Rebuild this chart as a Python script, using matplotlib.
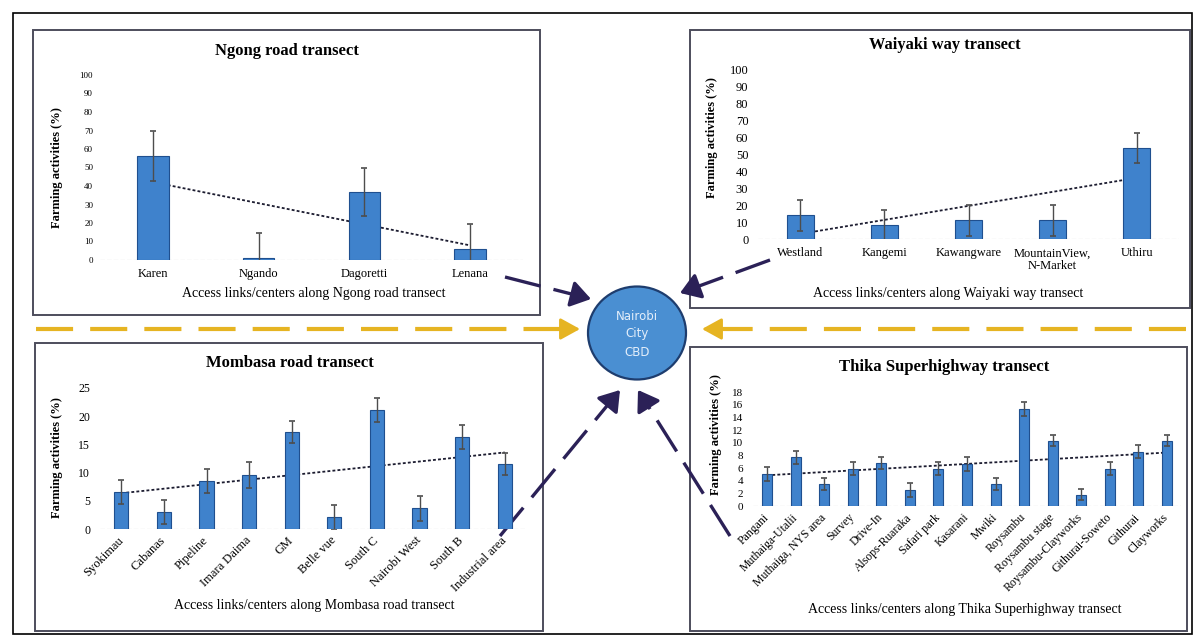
import numpy as np
import matplotlib.pyplot as plt
from matplotlib.patches import Rectangle, Ellipse

plt.rcParams['font.family'] = ['Liberation Serif', 'DejaVu Serif']

# Farming activities (%) along the four transects into Nairobi CBD
ngong_sites = ['Karen', 'Ngando', 'Dagoretti', 'Lenana']
ngong_farming = [56, 1, 37, 6]
ngong_err = [13.5, 13.5, 13, 13.5]

waiyaki_sites = ['Westland', 'Kangemi', 'Kawangware', 'MountainView,\nN-Market', 'Uthiru']
waiyaki_farming = [14, 8, 11, 11, 54]
waiyaki_err = [9, 9, 9, 9, 9]

mombasa_sites = ['Syokimau', 'Cabanas', 'Pipeline', 'Imara Daima', 'GM', 'Belle vue',
                 'South C', 'Nairobi West', 'South B', 'Industrial area']
mombasa_farming = [6.6, 3.0, 8.5, 9.6, 17.2, 2.1, 21.1, 3.7, 16.3, 11.5]
mombasa_err = [2.1, 2.1, 2.1, 2.3, 2.0, 2.2, 2.1, 2.2, 2.1, 2.0]

thika_sites = ['Pangani', 'Muthaiga-Utalii', 'Muthaiga, NYS area', 'Survey', 'Drive-In',
               'Alsops-Ruaraka', 'Safari park', 'Kasarani', 'Mwiki', 'Roysambu',
               'Roysambu stage', 'Roysambu-Clayworks', 'Githurai-Soweto', 'Githurai', 'Clayworks']
thika_farming = [5.0, 7.7, 3.5, 5.9, 6.8, 2.5, 5.9, 6.7, 3.5, 15.3, 10.3, 1.8, 5.9, 8.6, 10.3]
thika_err = [1.1, 1.0, 0.9, 1.0, 1.0, 1.1, 1.0, 1.1, 0.9, 1.1, 0.9, 0.9, 1.0, 1.0, 0.9]

W, H = 1197, 636
BAR = '#3f82cc'
BAR_EDGE = '#1f4f8f'
BOX = '#4d4d5c'
NAVY = '#2b2157'
YELLOW = '#e6b422'

fig = plt.figure(figsize=(W / 100, H / 100), dpi=100)

# pixel-space canvas for frames, arrows and the CBD node
base = fig.add_axes([0, 0, 1, 1], zorder=0)
base.set_xlim(0, W)
base.set_ylim(H, 0)
base.axis('off')

base.add_patch(Rectangle((13, 13), 1179, 621, fill=False, ec='black', lw=1.2))
for x0, y0, x1, y1 in [(33, 30, 540, 315), (690, 30, 1190, 308),
                       (35, 343, 543, 631), (690, 347, 1187, 631)]:
    base.add_patch(Rectangle((x0, y0), x1 - x0, y1 - y0, fill=False, ec=BOX, lw=1.4))


def px_axes(x0, y0, x1, y1):
    ax = fig.add_axes([x0 / W, 1 - y1 / H, (x1 - x0) / W, (y1 - y0) / H], zorder=1)
    ax.set_facecolor('none')
    return ax


def dash_arrow(start, end, color, lw, dashes, head_len, head_w):
    start = np.array(start, float)
    end = np.array(end, float)
    d = (end - start) / np.hypot(*(end - start))
    stop = end - d * head_len * 0.8
    base.plot([start[0], stop[0]], [start[1], stop[1]], color=color, lw=lw,
              ls=(0, dashes), dash_capstyle='butt')
    base.annotate('', xy=end, xytext=end - d * head_len,
                  arrowprops=dict(arrowstyle='-|>,head_length=%.2f,head_width=%.2f' % (head_len / 10, head_w / 10),
                                  color=color, lw=lw, mutation_scale=10, shrinkA=0, shrinkB=0))


def transect(names, vals, errs, title, xlabel, plot, ymax, ystep, width, rot,
             title_xy, xlabel_xy, ylabel_xy, fs):
    ax = px_axes(*plot)
    x = np.arange(len(names))
    ax.bar(x, vals, width, yerr=errs, color=BAR, edgecolor=BAR_EDGE, linewidth=0.8, zorder=3,
           error_kw=dict(ecolor='#4d4d4d', elinewidth=1, capsize=2.5, capthick=1.2, zorder=4))
    k, b = np.polyfit(x, vals, 1)
    ends = x[[0, -1]]
    ax.plot(ends, k * ends + b, color='#1c1c30', lw=1.3, ls=(0, (1.6, 1.2)), zorder=2)
    ax.axhline(0, color='#a8a8a8', lw=0.8, ls=(0, (4, 2)), zorder=1)
    ax.set_xlim(-0.5, len(names) - 0.5)
    ax.set_ylim(0, ymax)
    ax.set_yticks(np.arange(0, ymax + 0.1, ystep))
    ax.tick_params(axis='y', length=0, labelsize=fs['ytick'], pad=fs['ypad'])
    ax.tick_params(axis='x', length=0, labelsize=fs['xtick'], pad=fs['xpad'])
    ax.set_xticks(x)
    if rot:
        ax.set_xticklabels(names, rotation=rot, ha='right', va='center', rotation_mode='anchor')
    else:
        ax.set_xticklabels(names, linespacing=1.1)
    for s in ax.spines.values():
        s.set_visible(False)
    fig.text(title_xy[0] / W, 1 - title_xy[1] / H, title, ha='center', va='center',
             fontsize=fs['title'], fontweight='bold')
    fig.text(xlabel_xy[0] / W, 1 - xlabel_xy[1] / H, xlabel, ha='center', va='center',
             fontsize=fs['xlabel'])
    fig.text(ylabel_xy[0] / W, 1 - ylabel_xy[1] / H, 'Farming activities (%)', ha='center',
             va='center', rotation=90, fontsize=9, fontweight='bold')


transect(ngong_sites, ngong_farming, ngong_err, 'Ngong road transect',
         'Access links/centers along Ngong road transect',
         (100, 75, 523, 260), 100, 10, 0.30, 0, (287, 51), (314, 293), (57, 168),
         dict(title=12, ytick=6.5, xtick=9, xlabel=10, ypad=5, xpad=6))

transect(waiyaki_sites, waiyaki_farming, waiyaki_err, 'Waiyaki way transect',
         'Access links/centers along Waiyaki way transect',
         (758, 70, 1179, 239), 100, 10, 0.32, 0, (945, 45), (948, 293), (712, 138),
         dict(title=11.75, ytick=9, xtick=9, xlabel=10, ypad=7, xpad=6))

transect(mombasa_sites, mombasa_farming, mombasa_err, 'Mombasa road transect',
         'Access links/centers along Mombasa road transect',
         (100, 388, 526, 529), 25, 5, 0.33, 45, (290, 363), (314, 605), (57, 458),
         dict(title=12, ytick=8.5, xtick=9, xlabel=10, ypad=7, xpad=7))

transect(thika_sites, thika_farming, thika_err, 'Thika Superhighway transect',
         'Access links/centers along Thika Superhighway transect',
         (753, 392, 1181, 506), 18, 2, 0.35, 45, (944, 367), (965, 610), (716, 435),
         dict(title=12, ytick=8, xtick=8.5, xlabel=10, ypad=7, xpad=7))

# yellow ring-road arrows into the CBD
base.plot([36, 566], [329, 329], color=YELLOW, lw=3, ls=(0, (8.9, 4.1)), dash_capstyle='butt')
base.annotate('', xy=(580, 329), xytext=(562, 329),
              arrowprops=dict(arrowstyle='-|>,head_length=1.0,head_width=0.55', color=YELLOW,
                              lw=2, mutation_scale=12, shrinkA=0, shrinkB=0))
base.plot([1186, 716], [329, 329], color=YELLOW, lw=3, ls=(0, (8.9, 4.1)), dash_capstyle='butt')
base.annotate('', xy=(702, 329), xytext=(720, 329),
              arrowprops=dict(arrowstyle='-|>,head_length=1.0,head_width=0.55', color=YELLOW,
                              lw=2, mutation_scale=12, shrinkA=0, shrinkB=0))

# transect links pointing at the CBD
dash_arrow((505, 277), (591, 299), NAVY, 2.4, (11, 4), 12, 8)
dash_arrow((770, 260), (680, 293), NAVY, 2.4, (11, 4), 12, 8)
dash_arrow((500, 536), (620, 390), NAVY, 2.4, (11, 4), 12, 8)
dash_arrow((730, 536), (638, 390), NAVY, 2.4, (11, 4), 12, 8)

base.add_patch(Ellipse((637, 333), 98, 93, fc='#4a8fd2', ec='#1e3d6e', lw=1.6, zorder=5))
base.text(637, 334, 'Nairobi\nCity\nCBD', ha='center', va='center', color='#e3eefa',
          fontsize=8.5, family='DejaVu Sans', linespacing=1.5, zorder=6)

fig.savefig('out.png', dpi=100)
